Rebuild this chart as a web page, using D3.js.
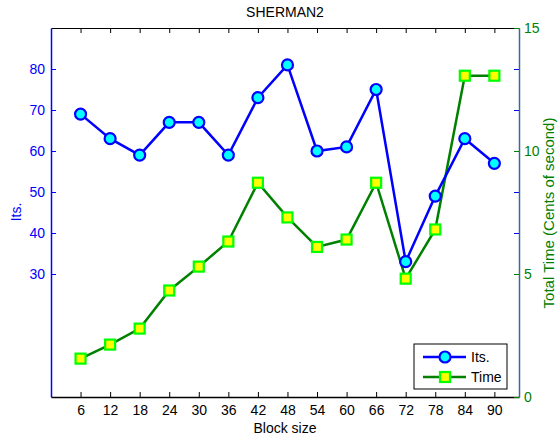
<!DOCTYPE html>
<html>
<head>
<script src="https://d3js.org/d3.v7.min.js"></script>
<style>
  body { margin: 0; background: #fff; }
  svg text { font-family: "Liberation Sans", Arial, sans-serif; }
</style>
</head>
<body>
<div id="chart"></div>
<script>
  // block sizes on the x axis
  const blockSizes = [6, 12, 18, 24, 30, 36, 42, 48, 54, 60, 66, 72, 78, 84, 90];
  // iterations (left axis)
  const its = [69, 63, 59, 67, 67, 59, 73, 81, 60, 61, 75, 33, 49, 63, 57];
  // total time in cents of second (right axis)
  const times = [1.56, 2.13, 2.78, 4.33, 5.3, 6.32, 8.71, 7.3, 6.1, 6.4, 8.71, 4.81, 6.81, 13.06, 13.06];
  const leftTicks = [30, 40, 50, 60, 70, 80];
  const rightTicks = [0, 5, 10, 15];

  const W = 558, H = 438;
  const margin = { top: 28, right: 39, bottom: 41, left: 51 };
  const width = W - margin.left - margin.right,
        height = H - margin.top - margin.bottom;

  const BLUE = "#0000ff", GREEN = "#008000";
  const FS = 14;

  const svg = d3.select("#chart").append("svg")
      .attr("width", W).attr("height", H);
  const g = svg.append("g")
      .attr("transform", `translate(${margin.left},${margin.top})`);

  const x = d3.scaleLinear().domain([0, 95]).range([0, width]);
  const yL = d3.scaleLinear().domain([0, 90]).range([height, 0]);
  const yR = d3.scaleLinear().domain([0, 15]).range([height, 0]);

  // axes (MATLAB style ticks inside)
  const xAxis = g.append("g").attr("transform", `translate(0,${height})`)
      .call(d3.axisBottom(x).tickValues(blockSizes).tickSizeInner(-5).tickSizeOuter(0).tickPadding(8));
  xAxis.select(".domain").attr("stroke", "#000").attr("stroke-width", 1.5);
  xAxis.selectAll("text").attr("font-size", FS).attr("fill", "#000");

  const xTop = g.append("g")
      .call(d3.axisTop(x).tickValues(blockSizes).tickSizeInner(-5).tickSizeOuter(0).tickFormat(""));
  xTop.select(".domain").attr("stroke", "#000");

  const lAxis = g.append("g")
      .call(d3.axisLeft(yL).tickValues(leftTicks).tickSizeInner(-5).tickSizeOuter(0).tickPadding(6));
  lAxis.select(".domain").attr("stroke", BLUE).attr("stroke-width", 1.5);
  lAxis.selectAll("line").attr("stroke", BLUE);
  lAxis.selectAll("text").attr("font-size", FS).attr("fill", BLUE);

  // left ticks mirrored on the right edge
  const lMirror = g.append("g").attr("transform", `translate(${width},0)`)
      .call(d3.axisRight(yL).tickValues(leftTicks).tickSizeInner(-5).tickSizeOuter(0).tickFormat(""));
  lMirror.select(".domain").remove();
  lMirror.selectAll("line").attr("stroke", BLUE);

  const rAxis = g.append("g").attr("transform", `translate(${width},0)`)
      .call(d3.axisRight(yR).tickValues(rightTicks).tickSizeInner(-5).tickSizeOuter(0).tickPadding(5));
  rAxis.select(".domain").attr("stroke", "#3a6a9a").attr("stroke-width", 1.5);
  rAxis.selectAll("line").attr("stroke", GREEN);
  rAxis.selectAll("text").attr("font-size", FS).attr("fill", GREEN);

  // title and labels
  svg.append("text").attr("x", 285).attr("y", 17).attr("text-anchor", "middle")
      .attr("font-size", FS).text("SHERMAN2");
  svg.append("text").attr("x", 285).attr("y", 433).attr("text-anchor", "middle")
      .attr("font-size", FS).text("Block size");
  svg.append("text").attr("transform", "translate(21,212) rotate(-90)")
      .attr("text-anchor", "middle").attr("font-size", FS).attr("fill", BLUE).text("Its.");
  svg.append("text").attr("transform", "translate(554,213) rotate(-90)")
      .attr("text-anchor", "middle").attr("font-size", 15).attr("fill", GREEN)
      .text("Total Time (Cents of second)");

  // time series
  const timeData = blockSizes.map((b, i) => ({ b, v: times[i] }));
  const itsData = blockSizes.map((b, i) => ({ b, v: its[i] }));

  g.append("path").datum(timeData)
      .attr("fill", "none").attr("stroke", GREEN).attr("stroke-width", 2.5)
      .attr("d", d3.line().x(d => x(d.b)).y(d => yR(d.v)));
  g.selectAll(".sq").data(timeData).enter().append("rect")
      .attr("class", "sq")
      .attr("x", d => x(d.b) - 5).attr("y", d => yR(d.v) - 5)
      .attr("width", 10).attr("height", 10)
      .attr("fill", "#ffff00").attr("stroke", "#00ff00").attr("stroke-width", 2.2);

  // its series
  g.append("path").datum(itsData)
      .attr("fill", "none").attr("stroke", BLUE).attr("stroke-width", 2.5)
      .attr("d", d3.line().x(d => x(d.b)).y(d => yL(d.v)));
  g.selectAll(".dot").data(itsData).enter().append("circle")
      .attr("class", "dot")
      .attr("cx", d => x(d.b)).attr("cy", d => yL(d.v)).attr("r", 5.5)
      .attr("fill", "#00ffff").attr("stroke", BLUE).attr("stroke-width", 2.2);

  // legend
  const lg = svg.append("g").attr("transform", "translate(414,344)");
  lg.append("rect").attr("width", 93).attr("height", 45)
      .attr("fill", "#fff").attr("stroke", "#000").attr("stroke-width", 1);
  lg.append("line").attr("x1", 9).attr("x2", 52).attr("y1", 13).attr("y2", 13)
      .attr("stroke", BLUE).attr("stroke-width", 2.5);
  lg.append("circle").attr("cx", 31).attr("cy", 13).attr("r", 5.5)
      .attr("fill", "#00ffff").attr("stroke", BLUE).attr("stroke-width", 2.2);
  lg.append("text").attr("x", 57).attr("y", 18).attr("font-size", FS).text("Its.");
  lg.append("line").attr("x1", 9).attr("x2", 52).attr("y1", 33).attr("y2", 33)
      .attr("stroke", GREEN).attr("stroke-width", 2.5);
  lg.append("rect").attr("x", 26).attr("y", 28).attr("width", 10).attr("height", 10)
      .attr("fill", "#ffff00").attr("stroke", "#00ff00").attr("stroke-width", 2.2);
  lg.append("text").attr("x", 57).attr("y", 38).attr("font-size", FS).text("Time");
</script>
</body>
</html>
